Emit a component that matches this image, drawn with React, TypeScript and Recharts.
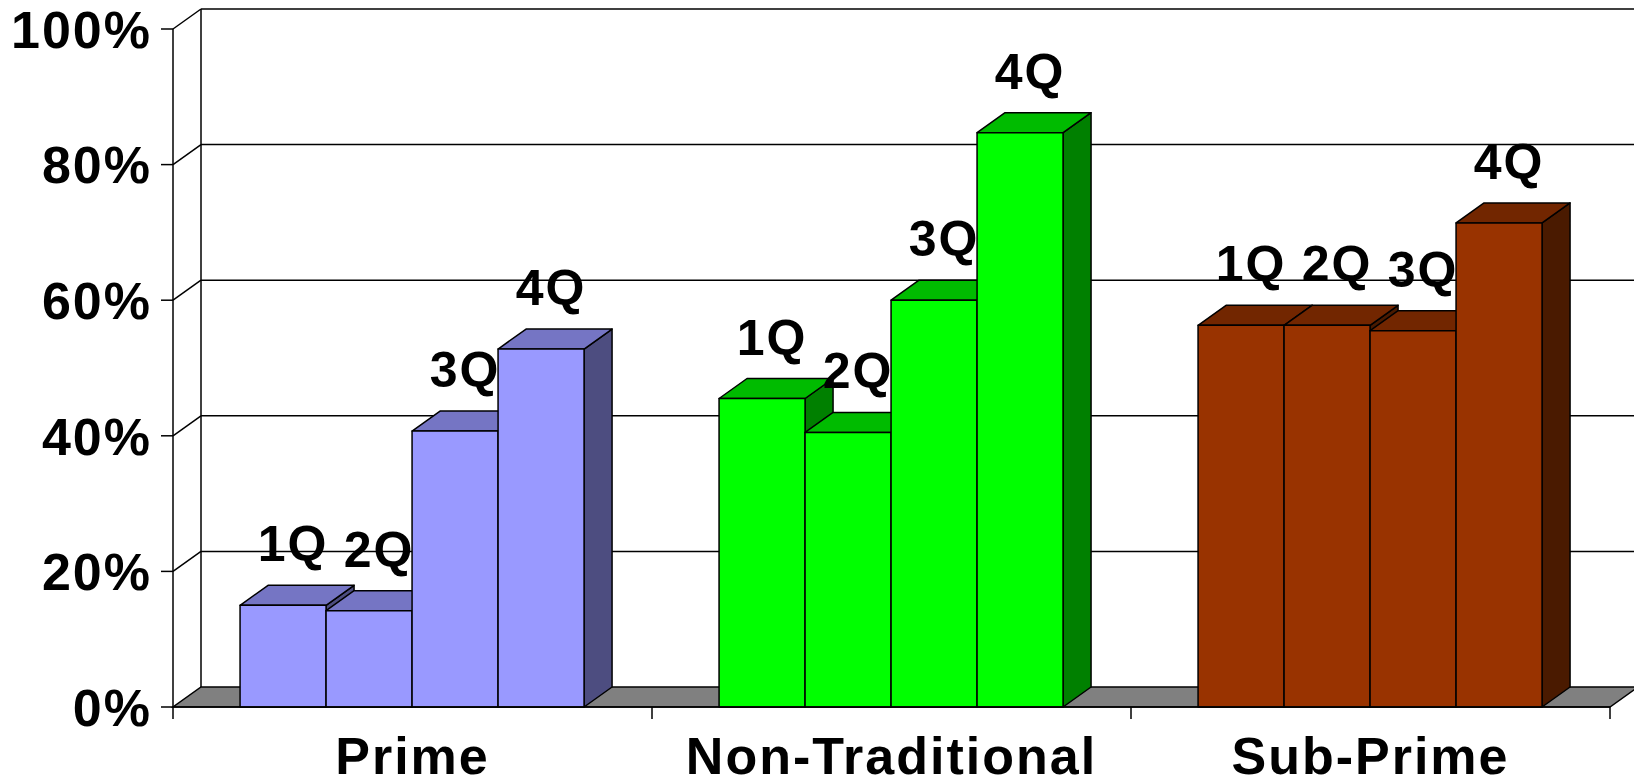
import React from 'react';
import { BarChart, Bar, XAxis, YAxis, CartesianGrid, LabelList } from 'recharts';

const categories = ['Prime', 'Non-Traditional', 'Sub-Prime'];
const quarters = ['1Q', '2Q', '3Q', '4Q'];
const primeValues = [15, 14.2, 40.7, 52.8];
const nonTraditionalValues = [45.5, 40.5, 60, 84.7];
const subPrimeValues = [56.3, 56.3, 55.5, 71.4];
const yTicks = [0, 20, 40, 60, 80, 100];

const seriesByCategory = [primeValues, nonTraditionalValues, subPrimeValues];

// one row per category, one key per quarter
const data = categories.map((name, i) => {
	const row: any = { name };
	quarters.forEach((q, j) => {
		row[q] = seriesByCategory[i][j];
	});
	return row;
});

const palettes = [
	{ front: '#9999FF', top: '#7575C4', side: '#4D4D80' },
	{ front: '#00FF00', top: '#00BB00', side: '#008000' },
	{ front: '#993300', top: '#722600', side: '#4A1A00' },
];

const W = 1634;
const H = 784;
const MARGIN = { top: 29, right: 24, bottom: 0, left: 0 };
const Y_AXIS_W = 173;
const X_AXIS_H = 77;
const PLOT_TOP = MARGIN.top;
const PLOT_BOTTOM = H - X_AXIS_H;
const DX = 28;
const DY = 20;
const FONT = '"Liberation Sans", Arial, sans-serif';

const Bar3D = (props: any) => {
	const { x, y, width, height, index } = props;
	if (width == null || height == null) return null;
	const p = palettes[index % palettes.length];
	return (
		<g stroke="#000" strokeWidth={1.5} strokeLinejoin="round">
			<polygon
				points={`${x + width},${y} ${x + width + DX},${y - DY} ${x + width + DX},${y + height - DY} ${x + width},${y + height}`}
				fill={p.side}
			/>
			<polygon
				points={`${x},${y} ${x + DX},${y - DY} ${x + width + DX},${y - DY} ${x + width},${y}`}
				fill={p.top}
			/>
			<rect x={x} y={y} width={width} height={height} fill={p.front} />
		</g>
	);
};

const makeLabel = (text: string) => (props: any) => {
	const { x, y, width } = props;
	return (
		<text
			x={x + width / 2 + 10}
			y={y - 62}
			dy="0.36em"
			textAnchor="middle"
			fontFamily={FONT}
			fontWeight="bold"
			fontSize={50}
			letterSpacing={2}
			fill="#000"
		>
			{text}
		</text>
	);
};

// back wall gridline + side wall diagonal; floor and back wall edge at the extremes
const GridLine = (props: any) => {
	const { x1, x2, y1 } = props;
	const y = y1;
	const isFloor = Math.abs(y - PLOT_BOTTOM) < 1;
	const isTop = Math.abs(y - PLOT_TOP) < 1;
	const band = (x2 - x1) / categories.length;
	return (
		<g stroke="#000" strokeWidth={1.5}>
			{isFloor ? (
				<>
					<polygon
						points={`${x1},${y} ${x2},${y} ${x2 + DX},${y - DY} ${x1 + DX},${y - DY}`}
						fill="#808080"
					/>
					{[...categories, ''].map((_, i) => (
						<line key={i} x1={x1 + band * i} y1={y} x2={x1 + band * i} y2={y + 12} />
					))}
				</>
			) : (
				<>
					<line x1={x1 + DX} y1={y - DY} x2={x2 + DX} y2={y - DY} />
					<line x1={x1} y1={y} x2={x1 + DX} y2={y - DY} />
				</>
			)}
			{isTop && <line x1={x1 + DX} y1={y - DY} x2={x1 + DX} y2={PLOT_BOTTOM - DY} />}
		</g>
	);
};

const YTick = (props: any) => {
	const { x, y, payload } = props;
	return (
		<text
			x={x}
			y={y}
			dy="0.36em"
			textAnchor="end"
			fontFamily={FONT}
			fontWeight="bold"
			fontSize={52}
			letterSpacing={2}
			fill="#000"
		>
			{payload.value}%
		</text>
	);
};

const XTick = (props: any) => {
	const { x, payload } = props;
	return (
		<text
			x={x}
			y={PLOT_BOTTOM + 67}
			textAnchor="middle"
			fontFamily={FONT}
			fontWeight="bold"
			fontSize={52}
			letterSpacing={2}
			fill="#000"
		>
			{payload.value}
		</text>
	);
};

export default function App() {
	return (
		<div style={{ position: 'absolute', left: 0, top: 0, width: W, height: H, background: '#fff' }}>
			<BarChart
				width={W}
				height={H}
				data={data}
				margin={MARGIN}
				barCategoryGap="14%"
				barGap={0}
			>
				<CartesianGrid vertical={false} horizontal={GridLine} />
				<XAxis
					dataKey="name"
					height={X_AXIS_H}
					axisLine={{ stroke: '#000', strokeWidth: 1.5 }}
					tickLine={false}
					tick={XTick}
					interval={0}
				/>
				<YAxis
					width={Y_AXIS_W}
					domain={[0, 100]}
					ticks={yTicks}
					interval={0}
					axisLine={{ stroke: '#000', strokeWidth: 1.5 }}
					tickLine={{ stroke: '#000', strokeWidth: 1.5 }}
					tickSize={12}
					tickMargin={9}
					tick={YTick}
				/>
				{quarters.map((q) => (
					<Bar key={q} dataKey={q} shape={Bar3D} isAnimationActive={false}>
						<LabelList dataKey={q} content={makeLabel(q)} />
					</Bar>
				))}
			</BarChart>
		</div>
	);
}
